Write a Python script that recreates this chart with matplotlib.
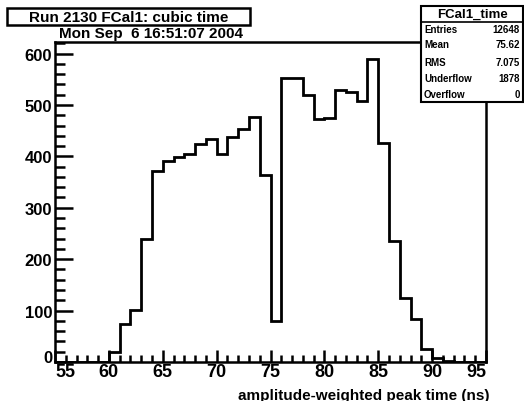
import numpy as np
import matplotlib
matplotlib.use('Agg')
import matplotlib.pyplot as plt
from matplotlib.ticker import MultipleLocator

# FCal1 cubic-time histogram, run 2130 (1 ns bins)
bin_lo = 55
bin_hi = 95
counts = [0, 0, 0, 0, 0,
          19, 74, 102, 240, 372, 391, 398, 405, 424, 433,
          404, 437, 453, 476, 363, 80, 552, 552, 520, 472,
          475, 529, 525, 507, 589, 426, 236, 125, 84, 25,
          7, 1, 0, 0, 0]

hist_name = 'FCal1_time'
stat_labels = ['Entries', 'Mean', 'RMS', 'Underflow', 'Overflow']
stat_values = ['12648', '75.62', '7.075', '1878', '0']

title = 'Run 2130 FCal1: cubic time'
date_line = 'Mon Sep  6 16:51:07 2004'
xlabel = 'amplitude-weighted peak time (ns)'

plt.rcParams['font.family'] = ['Liberation Sans', 'DejaVu Sans']
plt.rcParams['font.weight'] = 'bold'

W, H = 524, 402
fig = plt.figure(figsize=(W / 100, H / 100), dpi=100)
ax = fig.add_axes([55 / W, 1 - 363 / H, (486 - 55) / W, (363 - 43) / H])

edges = np.arange(bin_lo, bin_hi + 1)
ax.stairs(counts, edges, color='black', linewidth=2)

ax.set_xlim(bin_lo, bin_hi)
ax.set_ylim(0, 1.05 * max(counts) + 4)
for s in ax.spines.values():
    s.set_linewidth(1.8)

ax.set_xticks(np.arange(bin_lo, bin_hi + 1, 5))
ax.xaxis.set_minor_locator(MultipleLocator(1))
ax.set_yticks(np.arange(0, 601, 100))
ax.yaxis.set_minor_locator(MultipleLocator(20))
ax.tick_params(which='both', direction='in', top=False, right=False, width=1.8)
ax.tick_params(axis='x', which='major', length=9, labelsize=13, pad=1)
ax.tick_params(axis='x', which='minor', length=5)
ax.tick_params(axis='y', which='major', length=13, labelsize=12, pad=2)
ax.tick_params(axis='y', which='minor', length=7)

xlabels = ax.get_xticklabels()
xlabels[0].set_horizontalalignment('left')
xlabels[-1].set_horizontalalignment('right')
ylabels = ax.get_yticklabels()
ylabels[0].set_verticalalignment('baseline')
for t in xlabels + ylabels:
    t.set_fontweight('bold')

ax.text(490 / W, 1 - 396 / H, xlabel, transform=fig.transFigure,
        ha='right', va='center', fontsize=11, fontweight='bold')

# title box and date line
fig.patches.append(plt.Rectangle((7 / W, 1 - 26 / H), 243 / W, 17 / H,
                                 transform=fig.transFigure, fc='white',
                                 ec='black', lw=1.8))
fig.text(129 / W, 1 - 17.5 / H, title, ha='center', va='center', fontsize=11,
         fontweight='bold')
fig.text(151 / W, 1 - 34 / H, date_line, ha='center', va='center',
         fontsize=11, fontweight='bold')

# statistics box
bx0, bx1, by0, by1 = 421 / W, 523 / W, 1 - 103 / H, 1 - 7 / H
fig.patches.append(plt.Rectangle((bx0, by0), bx1 - bx0, by1 - by0,
                                 transform=fig.transFigure, fc='white',
                                 ec='black', lw=1.5, zorder=5))
sep = 1 - 23 / H
fig.lines.append(plt.Line2D([bx0, bx1], [sep, sep], transform=fig.transFigure,
                            color='black', lw=1.2, zorder=6))
fig.text((bx0 + bx1) / 2, 1 - 15 / H, hist_name, ha='center', va='center',
         fontsize=9.5, fontweight='bold', zorder=7)
row_y = [30, 45, 63, 79, 95]
for lab, val, ry in zip(stat_labels, stat_values, row_y):
    fig.text(424 / W, 1 - ry / H, lab, ha='left', va='center', fontsize=7,
             fontweight='bold', zorder=7)
    fig.text(520 / W, 1 - ry / H, val, ha='right', va='center', fontsize=7,
             fontweight='bold', zorder=7)

fig.savefig('out.png', dpi=100)
